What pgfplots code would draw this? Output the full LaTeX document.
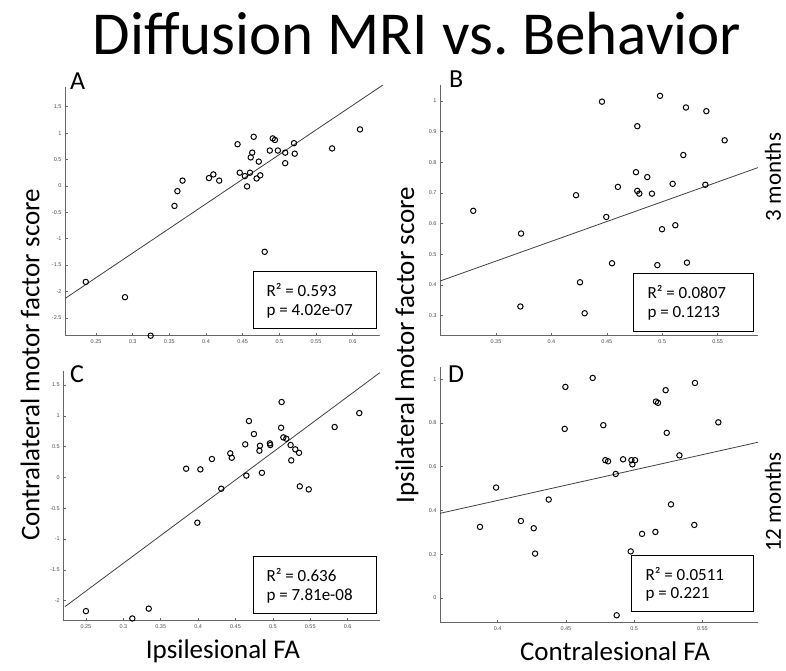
\documentclass[border=0pt]{standalone}
\usepackage{fontspec}
\setmainfont{Carlito}
\newfontfamily\ticksf{Liberation Sans}
\usepackage{pgfplots}
\pgfplotsset{compat=1.18}
\frenchspacing

\pgfplotsset{
  panel/.style={
    scale only axis, anchor=south west,
    axis x line*=bottom, axis y line*=left,
    axis line style={black!60, line width=0.6pt},
    tick align=inside, major tick length=2.5pt,
    tick style={black!60, line width=0.5pt},
    ticklabel style={font=\ticksf\fontsize{5.5}{6}\selectfont, text=black!70},
    /pgf/number format/assume math mode=true,
    clip=false,
  },
  pts/.style={only marks, mark=o, mark size=2.7pt, mark options={line width=1pt, black}},
  fit/.style={black!75, line width=0.8pt},
}

\begin{document}
\begin{tikzpicture}
\useasboundingbox (0pt,0pt) rectangle (786pt,670pt);

% A
\begin{axis}[panel, at={(65pt,334.3pt)}, width=315pt, height=249pt,
  xmin=0.2077, xmax=0.6373, ymin=-2.84, ymax=1.88,
  xtick={0.25,0.3,0.35,0.4,0.45,0.5,0.55,0.6},
  ytick={-2.5,-2,-1.5,-1,-0.5,0,0.5,1,1.5}]
\addplot[fit] coordinates {(0.2086,-2.127) (0.641,1.91)};
\addplot[pts] coordinates {
(0.236,-1.82) (0.2895,-2.11) (0.3245,-2.84) (0.357,-0.38) (0.361,-0.10)
(0.368,0.10) (0.404,0.148) (0.410,0.217) (0.418,0.10) (0.443,0.79)
(0.446,0.25) (0.453,0.186) (0.456,-0.01) (0.460,0.25) (0.461,0.54)
(0.463,0.63) (0.465,0.93) (0.469,0.14) (0.472,0.46) (0.474,0.20)
(0.480,-1.25) (0.487,0.67) (0.491,0.90) (0.494,0.87) (0.498,0.67)
(0.508,0.63) (0.508,0.43) (0.520,0.81) (0.521,0.61) (0.572,0.71) (0.610,1.07)};
\end{axis}

% B
\begin{axis}[panel, at={(440pt,334.3pt)}, width=318pt, height=250.6pt,
  xmin=0.2995, xmax=0.5864, ymin=0.2348, ymax=1.052,
  xtick={0.35,0.4,0.45,0.5,0.55},
  ytick={0.3,0.4,0.5,0.6,0.7,0.8,0.9,1}]
\addplot[fit] coordinates {(0.2995,0.413) (0.5864,0.783)};
\addplot[pts] coordinates {
(0.3295,0.642) (0.3726,0.568) (0.372,0.330) (0.4258,0.409) (0.4222,0.693)
(0.430,0.308) (0.4456,0.998) (0.4495,0.622) (0.4547,0.471) (0.460,0.720)
(0.4763,0.768) (0.4775,0.918) (0.4775,0.707) (0.4793,0.698) (0.4865,0.752)
(0.4907,0.698) (0.4956,0.465) (0.498,1.017) (0.4998,0.582) (0.5094,0.730)
(0.5118,0.595) (0.519,0.824) (0.5214,0.979) (0.5223,0.473) (0.5389,0.727)
(0.5398,0.967) (0.5563,0.872)};
\end{axis}

% C
\begin{axis}[panel, at={(63.3pt,49.3pt)}, width=316.7pt, height=249.2pt,
  xmin=0.2197, xmax=0.6433, ymin=-2.326, ymax=1.72,
  xtick={0.25,0.3,0.35,0.4,0.45,0.5,0.55,0.6},
  ytick={-2,-1.5,-1,-0.5,0,0.5,1,1.5}]
\addplot[fit] coordinates {(0.2219,-2.098) (0.643,1.70)};
\addplot[pts] coordinates {
(0.25,-2.17) (0.312,-2.29) (0.334,-2.13) (0.384,0.142) (0.399,-0.735)
(0.403,0.131) (0.4185,0.299) (0.431,-0.183) (0.443,0.391) (0.445,0.320)
(0.463,0.537) (0.4645,0.03) (0.468,0.916) (0.4747,0.705) (0.482,0.434)
(0.4827,0.515) (0.4854,0.075) (0.496,0.553) (0.4965,0.526) (0.511,0.807)
(0.5117,1.224) (0.514,0.650) (0.518,0.629) (0.5237,0.526) (0.5246,0.277)
(0.530,0.456) (0.535,0.40) (0.536,-0.145) (0.548,-0.194) (0.5826,0.818)
(0.6156,1.045)};
\end{axis}

% D
\begin{axis}[panel, at={(440pt,47.3pt)}, width=318pt, height=255.7pt,
  xmin=0.3577, xmax=0.5908, ymin=-0.113, ymax=1.056,
  xtick={0.4,0.45,0.5,0.55},
  ytick={0,0.2,0.4,0.6,0.8,1}]
\addplot[fit] coordinates {(0.3577,0.387) (0.5908,0.712)};
\addplot[pts] coordinates {
(0.387,0.325) (0.3988,0.505) (0.417,0.352) (0.4264,0.319) (0.4274,0.203)
(0.4374,0.450) (0.4491,0.773) (0.4496,0.965) (0.4696,1.006) (0.4774,0.790)
(0.4789,0.630) (0.4809,0.625) (0.4865,0.567) (0.4872,-0.079) (0.4919,0.634)
(0.4975,0.213) (0.498,0.630) (0.4987,0.611) (0.5007,0.630) (0.5058,0.293)
(0.5156,0.302) (0.516,0.898) (0.5175,0.892) (0.5231,0.950) (0.5239,0.755)
(0.527,0.428) (0.5332,0.652) (0.5441,0.334) (0.5446,0.983) (0.5617,0.803)};
\end{axis}

\begin{scope}[x=1pt, y=1pt]
% statistics boxes
\begin{scope}[font=\fontsize{17}{17}\selectfont]
\draw[black, line width=0.8pt] (253.3,341.7) rectangle (376.7,398.3);
\node[anchor=west] at (263,379.5) {R² = 0.593};
\node[anchor=west] at (263,359) {p = 4.02e-07};
\draw[black, line width=0.8pt] (633.3,338.3) rectangle (753.3,396.7);
\node[anchor=west] at (644,377.5) {R² = 0.0807};
\node[anchor=west] at (644,357) {p = 0.1213};
\draw[black, line width=0.8pt] (253.3,56.7) rectangle (376.7,113.3);
\node[anchor=west] at (263,94.5) {R² = 0.636};
\node[anchor=west] at (263,74) {p = 7.81e-08};
\draw[black, line width=0.8pt] (631.7,58.3) rectangle (753.3,115);
\node[anchor=west] at (642,96) {R² = 0.0511};
\node[anchor=west] at (642,75.5) {p = 0.221};
\end{scope}

% panel letters
\begin{scope}[font=\fontsize{26}{26}\selectfont]
\node[anchor=base west, inner sep=0] at (70,580) {A};
\node[anchor=base west, inner sep=0] at (449,582) {B};
\node[anchor=base west, inner sep=0] at (70,288) {C};
\node[anchor=base west, inner sep=0] at (448,288) {D};
\end{scope}

% title and axis labels
\node[anchor=base, inner sep=0, font=\fontsize{61}{61}\selectfont] at (417,615) {Diffusion MRI vs. Behavior};
\node[rotate=90, font=\fontsize{27}{27}\selectfont] at (30,305) {Contralateral motor factor score};
\node[rotate=90, font=\fontsize{27}{27}\selectfont] at (407,325) {Ipsilateral motor factor score};
\node[rotate=90, inner sep=1pt, font=\fontsize{23}{23}\selectfont] at (773,493) {3 months};
\node[rotate=90, inner sep=1pt, font=\fontsize{23}{23}\selectfont] at (773,168) {12 months};
\node[anchor=base, inner sep=0, font=\fontsize{27}{27}\selectfont] at (223,12) {Ipsilesional FA};
\node[anchor=base, inner sep=0, font=\fontsize{27}{27}\selectfont] at (615,10) {Contralesional FA};
\end{scope}
\end{tikzpicture}
\end{document}
